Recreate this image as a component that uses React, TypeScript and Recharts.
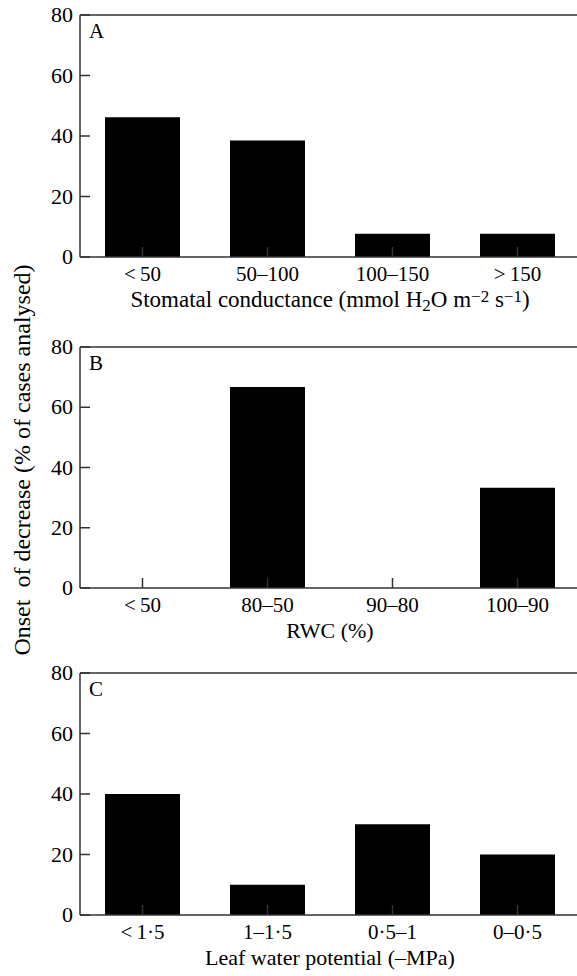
import React from 'react';
import { BarChart, Bar, XAxis, YAxis, ReferenceLine, Label } from 'recharts';

const categoriesA = ['<\u200950', '50–100', '100–150', '>\u2009150'];
const valuesA = [46.2, 38.5, 7.7, 7.7];
const categoriesB = ['<\u200950', '80–50', '90–80', '100–90'];
const valuesB = [0, 66.7, 0, 33.3];
const categoriesC = ['<\u20091·5', '1–1·5', '0·5–1', '0–0·5'];
const valuesC = [40, 10, 30, 20];
const yTicks = [0, 20, 40, 60, 80];

const FONT = '"Liberation Serif", "Times New Roman", serif';
const LINE = '#333';

const YTick = (props: any) => {
  const { x, y, payload } = props;
  return (
    <g>
      <line x1={x + 7} x2={x + 17} y1={y} y2={y} stroke={LINE} strokeWidth={1.5} />
      <text x={x} y={y + 7} textAnchor="end" fontSize={22} fontFamily={FONT} fill="#000">
        {payload.value}
      </text>
    </g>
  );
};

const XTick = (props: any) => {
  const { x, y, payload } = props;
  return (
    <g>
      <line x1={x} x2={x} y1={y} y2={y - 10} stroke={LINE} strokeWidth={1.5} />
      <text x={x} y={y + 24} textAnchor="middle" fontSize={21} fontFamily={FONT} fill="#000">
        {payload.value}
      </text>
    </g>
  );
};

const Panel = ({ letter, categories, values, title, titleSize, top, marginTop, height, axisHeight = 60 }: any) => {
  const data = categories.map((c: string, i: number) => ({ name: c, value: values[i] }));
  return (
    <div style={{ position: 'absolute', left: 0, top }}>
      <BarChart
        width={600}
        height={height}
        data={data}
        margin={{ top: marginTop, right: 20, left: 0, bottom: 0 }}
        barCategoryGap="20%"
      >
        <XAxis
          dataKey="name"
          height={axisHeight}
          tickSize={0}
          tickMargin={0}
          tick={<XTick />}
          axisLine={{ stroke: LINE, strokeWidth: 1.5 }}
          tickLine={false}
        >
          <Label
            content={(p: any) => {
              const vb = p.viewBox;
              return (
                <text
                  x={vb.x + vb.width / 2}
                  y={vb.y + 50}
                  textAnchor="middle"
                  fontSize={titleSize || 22}
                  fontFamily={FONT}
                  fill="#000"
                >
                  {title}
                </text>
              );
            }}
          />
        </XAxis>
        <YAxis
          width={80}
          domain={[0, 80]}
          ticks={yTicks}
          tickSize={0}
          tickMargin={7}
          tick={<YTick />}
          axisLine={{ stroke: LINE, strokeWidth: 1.5 }}
          tickLine={false}
          interval={0}
        />
        <ReferenceLine y={80} stroke={LINE} strokeWidth={1.5}>
          <Label
            content={(p: any) => {
              const vb = p.viewBox;
              return (
                <text x={vb.x + 9} y={vb.y + 23} fontSize={21} fontFamily={FONT} fill="#000">
                  {letter}
                </text>
              );
            }}
          />
        </ReferenceLine>
        <Bar dataKey="value" fill="#000" isAnimationActive={false} />
      </BarChart>
    </div>
  );
};

const titleA = (
  <>
    Stomatal conductance (mmol H
    <tspan baselineShift="-22%" fontSize={17}>2</tspan>
    <tspan>O m</tspan>
    <tspan baselineShift="32%" fontSize={17}>−2</tspan>
    <tspan> s</tspan>
    <tspan baselineShift="32%" fontSize={17}>−1</tspan>
    <tspan>)</tspan>
  </>
);

const yTitle = 'Onset  of decrease (% of cases analysed)';

export default function App() {
  return (
    <div
      style={{
        position: 'absolute',
        left: 0,
        top: 0,
        width: 577,
        height: 976,
        overflow: 'hidden',
        background: '#fff',
      }}
    >
      <Panel
        letter="A"
        categories={categoriesA}
        values={valuesA}
        title={titleA}
        titleSize={23}
        top={0}
        marginTop={15}
        height={325}
        axisHeight={68}
      />
      <Panel letter="B" categories={categoriesB} values={valuesB} title="RWC (%)" top={330} marginTop={17} height={318} />
      <Panel
        letter="C"
        categories={categoriesC}
        values={valuesC}
        title="Leaf water potential (–MPa)"
        top={655}
        marginTop={18}
        height={320}
      />
      <svg
        width={40}
        height={976}
        style={{ position: 'absolute', left: 0, top: 0, pointerEvents: 'none' }}
      >
        <text
          x={30}
          y={460}
          transform="rotate(-90, 30, 460)"
          textAnchor="middle"
          fontSize={24}
          fontFamily={FONT}
          fill="#000"
          style={{ whiteSpace: 'pre' }}
        >
          {yTitle}
        </text>
      </svg>
    </div>
  );
}
